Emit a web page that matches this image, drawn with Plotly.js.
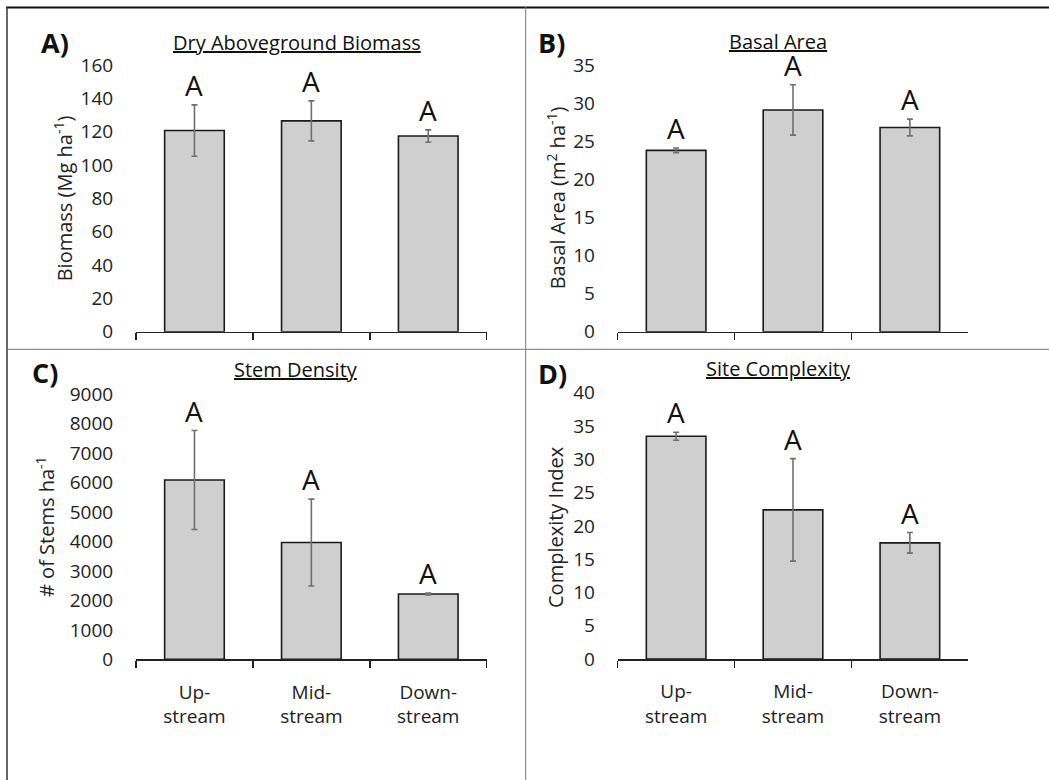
<!DOCTYPE html>
<html>
<head>
<meta charset="utf-8">
<script src="https://cdn.plot.ly/plotly-3.0.1.min.js"></script>
<style>html,body{margin:0;padding:0;background:#fff}#chart{width:1049px;height:780px}</style>
</head>
<body>
<div id="chart"></div>
<script>
// ---- data ----
const categories = ["Up-<br>stream", "Mid-<br>stream", "Down-<br>stream"];

const panelTitles = ["Dry Aboveground Biomass", "Basal Area", "Stem Density", "Site Complexity"];
const panelLetters = ["A)", "B)", "C)", "D)"];
const yTitles = ["Biomass (Mg ha<sup>-1</sup>)", "Basal Area (m<sup>2</sup> ha<sup>-1</sup>)", "# of Stems ha<sup>-1</sup>", "Complexity Index"];

const biomass = [120.7, 126.5, 117.4];
const biomassErr = [15.4, 12.0, 3.7];
const basalArea = [23.8, 29.1, 26.8];
const basalAreaErr = [0.3, 3.3, 1.1];
const stemDensity = [6090, 3965, 2218];
const stemDensityErr = [1680, 1475, 30];
const complexity = [33.45, 22.4, 17.45];
const complexityErr = [0.6, 7.7, 1.55];

const groupLetters = [["A", "A", "A"], ["A", "A", "A"], ["A", "A", "A"], ["A", "A", "A"]];

const yMax = [160, 35, 9000, 40];
const yStep = [20, 5, 1000, 5];

// ---- layout helpers ----
const W = 1049, H = 780;
const px = x => x / W;
const py = y => 1 - y / H;

const values = [biomass, basalArea, stemDensity, complexity];
const errors = [biomassErr, basalAreaErr, stemDensityErr, complexityErr];

// panel geometry (pixels)
const xDom = [[136, 486.7], [617.7, 968.3], [136, 486.7], [617.7, 968.3]];
const yDom = [[65, 331.7], [65, 331.7], [394.3, 659.3], [392.7, 659]];
const titlePos = [[296.5, 42.2], [777.8, 41.2], [296, 369.9], [778.3, 368.9]];
const letterPos = [[39, 42.8], [536, 42.8], [30, 372], [536, 373]];
const yTitlePos = [[63, 198.3], [556, 198.3], [45, 527], [555, 527]];

const FONT = "Open Sans, sans-serif";
const data = [];
const layout = {
  width: W, height: H,
  margin: {l: 0, r: 0, t: 0, b: 0},
  paper_bgcolor: "#fff", plot_bgcolor: "rgba(0,0,0,0)",
  showlegend: false,
  font: {family: FONT, color: "#222"},
  annotations: [],
  shapes: [
    {type: "line", xref: "paper", yref: "paper", x0: px(6), x1: 1, y0: py(7.5), y1: py(7.5), line: {color: "#111", width: 2}},
    {type: "line", xref: "paper", yref: "paper", x0: px(7), x1: px(7), y0: 0, y1: py(7), line: {color: "#333", width: 1.5}},
    {type: "line", xref: "paper", yref: "paper", x0: px(525.7), x1: px(525.7), y0: 0, y1: py(7), line: {color: "#777", width: 1}},
    {type: "line", xref: "paper", yref: "paper", x0: px(7), x1: 1, y0: py(349.3), y1: py(349.3), line: {color: "#777", width: 1}}
  ]
};

for (let i = 0; i < 4; i++) {
  const n = i + 1;
  const xa = n === 1 ? "x" : "x" + n;
  const ya = n === 1 ? "y" : "y" + n;
  const xk = n === 1 ? "xaxis" : "xaxis" + n;
  const yk = n === 1 ? "yaxis" : "yaxis" + n;
  const bottom = i >= 2;

  data.push({
    type: "bar",
    x: categories, y: values[i],
    xaxis: xa, yaxis: ya,
    width: 0.51,
    marker: {color: "#d0cfcf", line: {color: "#1a1a1a", width: 1.6}},
    error_y: {type: "data", array: errors[i], visible: true, color: "#6f6f6f", thickness: 1.6, width: 3},
    hoverinfo: "skip"
  });

  layout[xk] = {
    domain: [px(xDom[i][0]), px(xDom[i][1])],
    anchor: ya,
    type: "category",
    range: [-0.5, 2.5],
    tickson: "boundaries",
    ticks: "outside", ticklen: 7, tickwidth: 1.5, tickcolor: "#222",
    ticklabelstandoff: 15,
    showline: true, linecolor: "#222", linewidth: 1.5,
    showgrid: false, zeroline: false,
    showticklabels: bottom,
    tickfont: {family: FONT, size: 19, color: "#222"},
    fixedrange: true
  };
  layout[yk] = {
    domain: [py(yDom[i][1]), py(yDom[i][0])],
    anchor: xa,
    range: [0, yMax[i]],
    tick0: 0, dtick: yStep[i],
    ticks: "outside", ticklen: 18, tickcolor: "rgba(0,0,0,0)",
    showline: false, showgrid: false, zeroline: false,
    tickfont: {family: FONT, size: 19, color: "#222"},
    fixedrange: true
  };
  // overlay axis for the inner half of the crossing tick marks
  const on = n + 4;
  layout["xaxis" + on] = {
    overlaying: xa, anchor: ya,
    type: "linear", range: [-0.5, 2.5],
    tickmode: "array", tickvals: [-0.5, 0.5, 1.5, 2.5],
    ticks: "inside", ticklen: 8, tickwidth: 1.5, tickcolor: "#222",
    showticklabels: false, showline: false, showgrid: false, zeroline: false,
    fixedrange: true
  };

  // group letters above error bars
  for (let j = 0; j < 3; j++) {
    layout.annotations.push({
      xref: xa, yref: ya, x: categories[j], y: values[i][j] + errors[i][j],
      text: groupLetters[i][j], showarrow: false,
      xanchor: "center", yanchor: "bottom", yshift: -1,
      font: {family: FONT, size: 28, color: "#111"}
    });
  }
  // panel title
  layout.annotations.push({
    xref: "paper", yref: "paper", x: px(titlePos[i][0]), y: py(titlePos[i][1]),
    text: "<u>" + panelTitles[i] + "</u>", showarrow: false,
    xanchor: "center", yanchor: "middle",
    font: {family: FONT, size: 20, color: "#111"}
  });
  // panel letter
  layout.annotations.push({
    xref: "paper", yref: "paper", x: px(letterPos[i][0]), y: py(letterPos[i][1]),
    text: "<b>" + panelLetters[i] + "</b>", showarrow: false,
    xanchor: "left", yanchor: "middle",
    font: {family: FONT, size: 27, color: "#111"}
  });
  // y-axis title
  layout.annotations.push({
    xref: "paper", yref: "paper", x: px(yTitlePos[i][0]), y: py(yTitlePos[i][1]),
    text: yTitles[i], showarrow: false, textangle: -90,
    xanchor: "center", yanchor: "middle",
    font: {family: FONT, size: 20, color: "#222"}
  });
}

Plotly.newPlot("chart", data, layout, {displayModeBar: false, staticPlot: true});
</script>
</body>
</html>
